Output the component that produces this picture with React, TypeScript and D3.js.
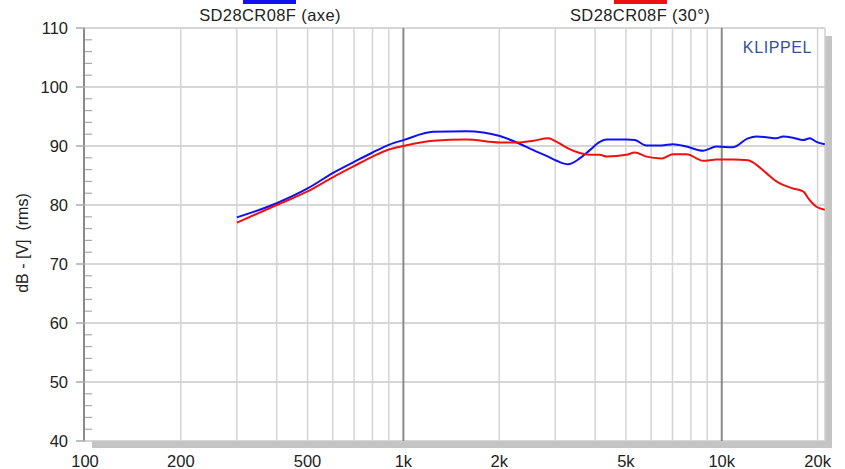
import React from 'react'
import * as d3 from 'd3'

// frequency (Hz) / level (dB)
const axeFreq = [300, 400, 500, 600, 700, 800, 900, 1000, 1240, 1580, 2010, 2270, 2560, 2850, 3030, 3290, 3580, 3850, 4140, 4350, 5020, 5330, 5800, 6470, 7030, 7750, 8740, 9630, 10850, 12090, 12850, 13810, 14850, 15580, 16740, 18000, 18900, 19830, 21060]
const axeDb = [77.9, 80.3, 82.8, 85.4, 87.3, 88.9, 90.2, 91.0, 92.4, 92.5, 91.7, 90.6, 89.3, 88.2, 87.5, 86.9, 87.9, 89.3, 90.7, 91.1, 91.1, 91.0, 90.1, 90.1, 90.3, 89.9, 89.2, 89.9, 89.8, 91.3, 91.6, 91.5, 91.3, 91.6, 91.4, 91.0, 91.3, 90.7, 90.3]

const offFreq = [300, 400, 500, 600, 700, 800, 900, 1000, 1240, 1580, 2010, 2270, 2560, 2850, 3030, 3290, 3580, 3850, 4140, 4350, 5020, 5330, 5800, 6470, 7030, 7750, 8740, 9630, 10850, 12090, 12850, 13810, 14850, 15580, 16740, 18000, 18900, 19830, 21060]
const offDb = [77.0, 80.0, 82.3, 84.7, 86.6, 88.2, 89.4, 90.0, 90.9, 91.1, 90.6, 90.6, 90.9, 91.3, 90.7, 89.6, 88.8, 88.5, 88.5, 88.2, 88.5, 88.9, 88.2, 87.9, 88.6, 88.6, 87.5, 87.7, 87.7, 87.6, 86.8, 85.4, 84.0, 83.4, 82.8, 82.3, 80.8, 79.7, 79.2]

const xTickValues = [100, 200, 500, 1000, 2000, 5000, 10000, 20000]
const xTickLabels = ['100', '200', '500', '1k', '2k', '5k', '10k', '20k']
const xGridMinor = [200, 300, 400, 500, 600, 700, 800, 900, 2000, 3000, 4000, 5000, 6000, 7000, 8000, 9000, 20000]
const xGridMajor = [1000, 10000]
const yTickValues = [40, 50, 60, 70, 80, 90, 100, 110]

const seriesNames = ['SD28CR08F (axe)', 'SD28CR08F (30°)']
const seriesColors = ['#1010f0', '#f01010']

const W = 845
const H = 469
const left = 85
const right = 825
const top = 28
const bottom = 441

export default function App() {
  const x = d3.scaleLog().domain([100, 21100]).range([left, right])
  const y = d3.scaleLinear().domain([40, 110]).range([bottom, top])

  const line = d3.line<[number, number]>()
    .x(d => x(d[0]))
    .y(d => y(d[1]))
    .curve(d3.curveMonotoneX)

  const series = [
    d3.zip(axeFreq, axeDb) as [number, number][],
    d3.zip(offFreq, offDb) as [number, number][],
  ]

  const yMinor = d3.range(40, 110, 2).filter(v => v % 10 !== 0)
  const font = 'Liberation Sans, Arial, sans-serif'

  return (
    <div style={{ position: 'absolute', left: 0, top: 0 }}>
      <svg width={W} height={H} style={{ display: 'block', fontFamily: font }}>
        <rect width={W} height={H} fill="#fff" />
        {/* shadow */}
        <rect x={92} y={bottom} width={right + 7 - 92} height={7} fill="#c4c4c4" />
        <rect x={right} y={36} width={7} height={bottom + 7 - 36} fill="#c4c4c4" />

        {/* grid */}
        {yTickValues.map(v => (
          <line key={`hy${v}`} x1={left} x2={right} y1={y(v)} y2={y(v)} stroke="#c8c8c8" strokeWidth={1.5} />
        ))}
        {xGridMinor.map(v => (
          <line key={`gx${v}`} x1={x(v)} x2={x(v)} y1={top} y2={bottom} stroke="#d4d4d4" strokeWidth={1.5} />
        ))}
        {xGridMajor.map(v => (
          <line key={`GX${v}`} x1={x(v)} x2={x(v)} y1={top} y2={bottom} stroke="#8a8a8a" strokeWidth={2} />
        ))}
        <line x1={right} x2={right} y1={top} y2={bottom} stroke="#cfcfcf" strokeWidth={1.5} />

        {/* y axis */}
        <line x1={left - 1} x2={left - 1} y1={top} y2={bottom} stroke="#8a8a8a" strokeWidth={2} />
        {yTickValues.map(v => (
          <line key={`ty${v}`} x1={76} x2={left} y1={y(v)} y2={y(v)} stroke="#aaa" strokeWidth={1.5} />
        ))}
        {yMinor.map(v => (
          <line key={`my${v}`} x1={left} x2={92} y1={y(v)} y2={y(v)} stroke="#aaa" strokeWidth={1.2} />
        ))}
        {yTickValues.map(v => (
          <text key={`ly${v}`} x={68} y={y(v) + 6} textAnchor="end" fontSize={16.5} fill="#222">{v}</text>
        ))}
        <text transform={`translate(28,243) rotate(-90)`} textAnchor="middle" fontSize={16}
          fill="#222" style={{ whiteSpace: 'pre' }}>{'dB - [V]  (rms)'}</text>

        {/* x labels */}
        {xTickValues.map((v, i) => (
          <text key={`lx${v}`} x={x(v)} y={467} textAnchor="middle" fontSize={16.5} fill="#222">{xTickLabels[i]}</text>
        ))}

        {/* curves */}
        {series.map((s, i) => (
          <path key={`s${i}`} d={line(s) ?? ''} fill="none" stroke={seriesColors[i]} strokeWidth={2} />
        ))}

        {/* legend */}
        <rect x={243} y={0} width={53} height={4} fill={seriesColors[0]} />
        <rect x={614} y={0} width={53} height={4} fill={seriesColors[1]} />
        <text x={270} y={21} textAnchor="middle" fontSize={16.5} letterSpacing={0.4} fill="#222">{seriesNames[0]}</text>
        <text x={640} y={21} textAnchor="middle" fontSize={16.5} letterSpacing={0.4} fill="#222">{seriesNames[1]}</text>

        <text x={812} y={53} textAnchor="end" fontSize={16} letterSpacing={0.6} fill="#3450a0">KLIPPEL</text>
      </svg>
    </div>
  )
}
